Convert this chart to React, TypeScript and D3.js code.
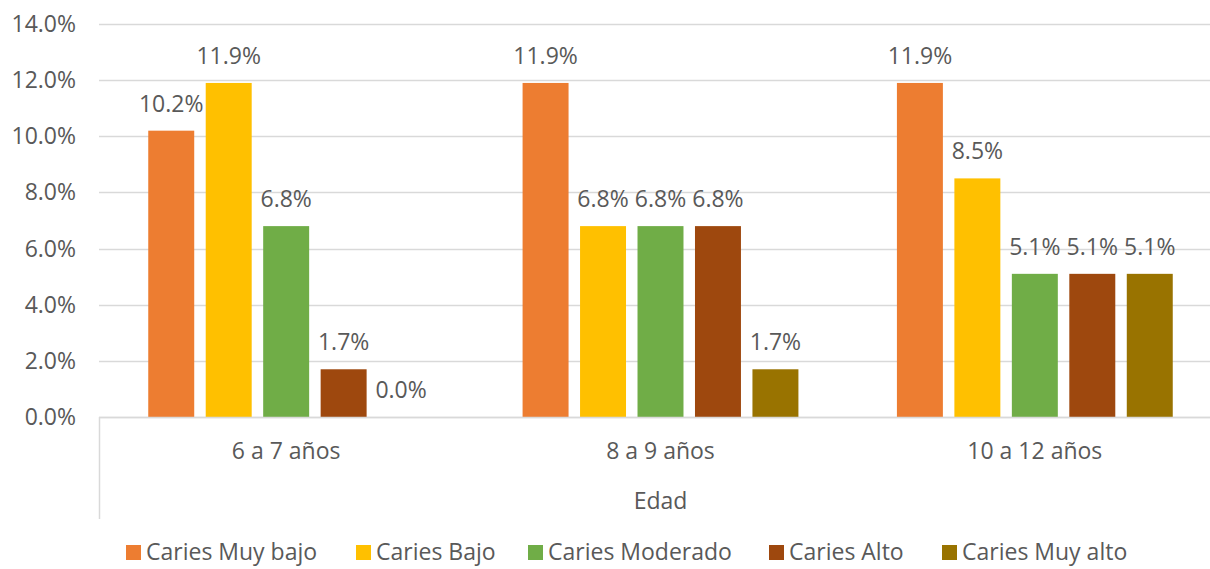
import React, { useEffect, useRef } from "react";
import * as d3 from "d3";

const categories = ["6 a 7 años", "8 a 9 años", "10 a 12 años"];
const seriesNames = [
  "Caries Muy bajo",
  "Caries Bajo",
  "Caries Moderado",
  "Caries Alto",
  "Caries Muy alto",
];
const seriesColors = ["#ED7D31", "#FFC000", "#70AD47", "#9E480E", "#997300"];
// values in %, per series, one per category
const muyBajo = [10.2, 11.9, 11.9];
const bajo = [11.9, 6.8, 8.5];
const moderado = [6.8, 6.8, 5.1];
const alto = [1.7, 6.8, 5.1];
const muyAlto = [0.0, 1.7, 5.1];
const seriesValues = [muyBajo, bajo, moderado, alto, muyAlto];
const yTicks = [0, 2, 4, 6, 8, 10, 12, 14];
const axisTitle = "Edad";

const W = 1210;
const H = 569;
const FONT = "'Open Sans', sans-serif";
const FS = "23px";
const TEXT = "#595959";

const App: React.FC = () => {
  const svgRef = useRef<SVGSVGElement>(null);

  useEffect(() => {
    if (!svgRef.current) return;
    const svg = d3.select(svgRef.current);
    svg.selectAll("*").remove();

    const left = 99;
    const right = 1222;
    const top = 24;
    const bottom = 417;

    const y = d3.scaleLinear().domain([0, 14]).range([bottom, top]);
    const x0 = d3.scaleBand<string>().domain(categories).range([left, right]);
    const x1 = d3
      .scaleBand<string>()
      .domain(seriesNames)
      .range([0, x0.bandwidth()])
      .paddingInner(0.2)
      .paddingOuter(0.857);

    // gridlines
    svg
      .append("g")
      .selectAll("line")
      .data(yTicks)
      .enter()
      .append("line")
      .attr("x1", left)
      .attr("x2", right)
      .attr("y1", (d) => Math.round(y(d)) + 0.5)
      .attr("y2", (d) => Math.round(y(d)) + 0.5)
      .attr("stroke", "#D9D9D9")
      .attr("stroke-width", 1.5);

    // tick labels
    svg
      .append("g")
      .selectAll("text")
      .data(yTicks)
      .enter()
      .append("text")
      .attr("x", 76)
      .attr("y", (d) => y(d))
      .attr("dy", "0.35em")
      .attr("text-anchor", "end")
      .style("font-family", FONT)
      .style("font-size", FS)
      .attr("fill", TEXT)
      .text((d) => d.toFixed(1) + "%");

    // bars
    const groups = svg
      .append("g")
      .selectAll("g")
      .data(categories)
      .enter()
      .append("g")
      .attr("transform", (d) => `translate(${x0(d)},0)`);

    groups
      .selectAll("rect")
      .data((_, ci) => seriesNames.map((s, si) => ({ s, si, v: seriesValues[si][ci] })))
      .enter()
      .append("rect")
      .attr("x", (d) => x1(d.s)!)
      .attr("width", x1.bandwidth())
      .attr("y", (d) => y(d.v))
      .attr("height", (d) => bottom - y(d.v))
      .attr("fill", (d) => seriesColors[d.si]);

    groups
      .selectAll("text")
      .data((_, ci) => seriesNames.map((s, si) => ({ s, si, v: seriesValues[si][ci] })))
      .enter()
      .append("text")
      .attr("x", (d) => x1(d.s)! + x1.bandwidth() / 2)
      .attr("y", (d) => y(d.v) - 19)
      .attr("text-anchor", "middle")
      .style("font-family", FONT)
      .style("font-size", FS)
      .attr("fill", TEXT)
      .text((d) => d.v.toFixed(1) + "%");

    // axis lines
    svg
      .append("line")
      .attr("x1", left)
      .attr("x2", right)
      .attr("y1", bottom + 0.5)
      .attr("y2", bottom + 0.5)
      .attr("stroke", "#D9D9D9")
      .attr("stroke-width", 1.5);
    svg
      .append("line")
      .attr("x1", left + 0.5)
      .attr("x2", left + 0.5)
      .attr("y1", bottom)
      .attr("y2", 519)
      .attr("stroke", "#D9D9D9")
      .attr("stroke-width", 1.5);

    // category labels
    svg
      .append("g")
      .selectAll("text")
      .data(categories)
      .enter()
      .append("text")
      .attr("x", (d) => x0(d)! + x0.bandwidth() / 2)
      .attr("y", 451)
      .attr("dy", "0.35em")
      .attr("text-anchor", "middle")
      .style("font-family", FONT)
      .style("font-size", FS)
      .attr("fill", TEXT)
      .text((d) => d);

    svg
      .append("text")
      .attr("x", x0(categories[1])! + x0.bandwidth() / 2)
      .attr("y", 501)
      .attr("dy", "0.35em")
      .attr("text-anchor", "middle")
      .style("font-family", FONT)
      .style("font-size", FS)
      .attr("fill", TEXT)
      .text(axisTitle);

    // legend
    const legendX = [126, 356, 528, 769, 942];
    const lg = svg
      .append("g")
      .selectAll("g")
      .data(seriesNames)
      .enter()
      .append("g")
      .attr("transform", (_, i) => `translate(${legendX[i]},552)`);
    lg.append("rect")
      .attr("x", 0)
      .attr("y", -7)
      .attr("width", 15)
      .attr("height", 15)
      .attr("fill", (_, i) => seriesColors[i]);
    lg.append("text")
      .attr("x", 20)
      .attr("y", 0)
      .attr("dy", "0.35em")
      .style("font-family", FONT)
      .style("font-size", FS)
      .attr("fill", TEXT)
      .text((d) => d);
  }, []);

  return (
    <svg
      ref={svgRef}
      width={W}
      height={H}
      style={{ position: "absolute", left: 0, top: 0, background: "white" }}
    />
  );
};

export default App;
